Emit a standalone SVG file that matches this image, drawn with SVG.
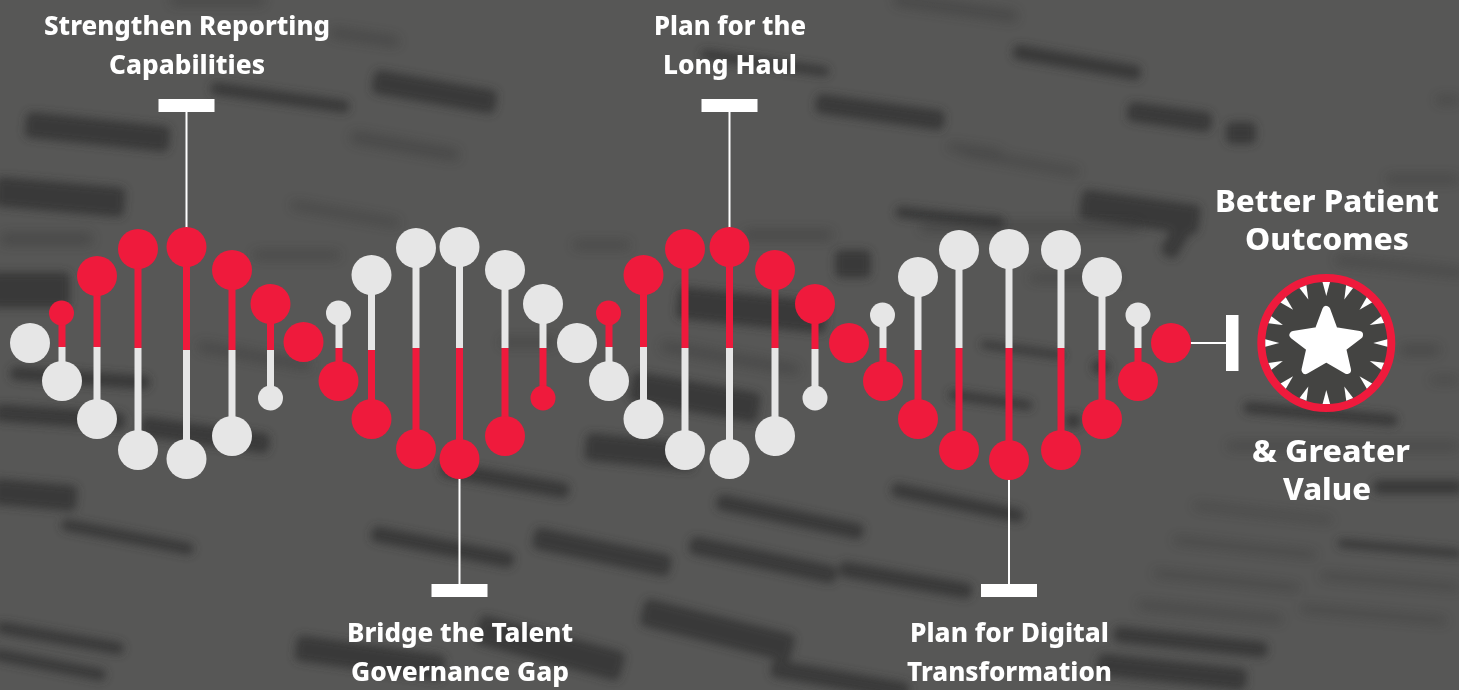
<svg xmlns="http://www.w3.org/2000/svg" width="1459" height="690" viewBox="0 0 1459 690">
<style>
.r{fill:#ef1a3c}.w{fill:#e6e6e6}
.t{font-family:"Noto Sans","Open Sans",sans-serif;font-weight:800;font-size:27px;fill:#fff;text-anchor:middle}
.k{font-size:31px}
.l{stroke:#fff;stroke-width:2;fill:none}.b{fill:#fff}
.s{fill:#353636}
.s rect{rx:6px}
</style>
<defs>
<filter id="bl" filterUnits="userSpaceOnUse" x="-30" y="-30" width="1520" height="750"><feGaussianBlur stdDeviation="4.500"/></filter>
<filter id="bf" filterUnits="userSpaceOnUse" x="-30" y="-30" width="1520" height="750"><feGaussianBlur stdDeviation="5.500"/></filter>
</defs>
<rect width="1459" height="690" fill="#575756"/>
<g id="background-dark" filter="url(#bl)" class="s" opacity=".85">
<rect x="25" y="119" width="145" height="26" transform="rotate(6 98 132)"/>
<rect x="-5" y="182" width="130" height="30" transform="rotate(5 60 197)"/>
<rect x="210" y="91" width="140" height="13" transform="rotate(8 280 97)"/>
<rect x="372" y="80" width="125" height="24" transform="rotate(10 435 92)"/>
<rect x="700" y="58" width="130" height="10" transform="rotate(8 765 63)"/>
<rect x="815" y="102" width="130" height="20" transform="rotate(8 880 112)"/>
<rect x="895" y="212" width="110" height="12" transform="rotate(6 955 218)"/>
<rect x="1012" y="55" width="130" height="15" transform="rotate(10 1077 62)"/>
<rect x="1127" y="107" width="85" height="20" transform="rotate(8 1170 117)"/>
<rect x="1226" y="122" width="30" height="22"/>
<rect x="1080" y="197" width="120" height="30" transform="rotate(8 1140 212)"/>
<rect x="677" y="294" width="150" height="32" transform="rotate(6 750 310)"/>
<rect x="630" y="383" width="130" height="30" transform="rotate(10 700 398)"/>
<rect x="585" y="438" width="110" height="28" transform="rotate(6 640 452)"/>
<rect x="-10" y="272" width="80" height="36"/>
<rect x="10" y="371" width="140" height="14" transform="rotate(4 80 378)"/>
<rect x="-5" y="408" width="130" height="18" transform="rotate(4 60 417)"/>
<rect x="140" y="425" width="130" height="20" transform="rotate(8 205 435)"/>
<rect x="-8" y="482" width="85" height="26" transform="rotate(5 35 495)"/>
<rect x="60" y="531" width="135" height="12" transform="rotate(11 128 537)"/>
<rect x="-5" y="632" width="130" height="12" transform="rotate(10 60 638)"/>
<rect x="-8" y="659" width="115" height="12" transform="rotate(11 50 665)"/>
<rect x="295" y="645" width="150" height="26" transform="rotate(8 370 658)"/>
<rect x="370" y="539" width="145" height="16" transform="rotate(11 442 547)"/>
<rect x="532" y="541" width="140" height="22" transform="rotate(12 602 552)"/>
<rect x="688" y="551" width="150" height="18" transform="rotate(12 763 560)"/>
<rect x="838" y="572" width="135" height="16" transform="rotate(10 905 580)"/>
<rect x="715" y="509" width="150" height="16" transform="rotate(12 790 517)"/>
<rect x="890" y="496" width="135" height="14" transform="rotate(12 958 503)"/>
<rect x="640" y="616" width="155" height="28" transform="rotate(14 717 630)"/>
<rect x="770" y="671" width="140" height="18" transform="rotate(10 840 680)"/>
<rect x="475" y="633" width="150" height="30" transform="rotate(15 550 648)"/>
<rect x="440" y="472" width="130" height="16" transform="rotate(10 505 480)"/>
<rect x="1113" y="634" width="155" height="16" transform="rotate(6 1191 642)"/>
<rect x="1097" y="661" width="150" height="22" transform="rotate(6 1172 672)"/>
<rect x="1373" y="480" width="90" height="14"/>
<rect x="1243" y="408" width="155" height="12" transform="rotate(5 1320 414)"/>
<rect x="1337" y="544" width="125" height="9" transform="rotate(5 1400 548)"/>
<rect x="835" y="250" width="36" height="28"/>
<rect x="1170" y="212" width="18" height="48" transform="rotate(30 1180 235)"/>
<rect x="980" y="346" width="85" height="8" transform="rotate(8 1023 350)"/>
<rect x="948" y="395" width="85" height="10" transform="rotate(8 990 400)"/>
<rect x="1092" y="360" width="18" height="14"/>
<rect x="1065" y="414" width="16" height="14"/>
</g>
<g id="background-faint" filter="url(#bf)" class="s" opacity=".4">
<rect x="893" y="2" width="125" height="12" transform="rotate(8 955 8)"/>
<rect x="350" y="140" width="110" height="12" transform="rotate(10 405 145)"/>
<rect x="330" y="30" width="70" height="10" transform="rotate(8 350 33)"/>
<rect x="170" y="-5" width="95" height="10"/>
<rect x="290" y="210" width="110" height="8" transform="rotate(10 345 215)"/>
<rect x="947" y="146" width="55" height="8" transform="rotate(8 975 150)"/>
<rect x="960" y="158" width="120" height="8" transform="rotate(10 1020 162)"/>
<rect x="1335" y="262" width="130" height="8" transform="rotate(6 1396 266)"/>
<rect x="1227" y="442" width="232" height="8"/>
<rect x="500" y="338" width="57" height="9"/>
<rect x="573" y="241" width="57" height="8"/>
<rect x="660" y="353" width="140" height="10" transform="rotate(10 730 358)"/>
<rect x="743" y="230" width="90" height="10"/>
<rect x="0" y="233" width="93" height="12"/>
<rect x="197" y="351" width="115" height="10" transform="rotate(10 255 356)"/>
<rect x="253" y="251" width="87" height="8"/>
<rect x="920" y="222" width="220" height="10"/>
<rect x="1030" y="274" width="90" height="8"/>
<rect x="1193" y="510" width="140" height="6" transform="rotate(6 1263 513)"/>
<rect x="1173" y="544" width="144" height="7" transform="rotate(6 1245 547)"/>
<rect x="1153" y="577" width="147" height="7" transform="rotate(6 1226 580)"/>
<rect x="1137" y="608" width="146" height="8" transform="rotate(6 1210 612)"/>
<rect x="1320" y="578" width="140" height="7" transform="rotate(5 1390 581)"/>
<rect x="1300" y="611" width="147" height="7" transform="rotate(5 1373 615)"/>
<rect x="1386" y="175" width="73" height="8"/>
<rect x="1436" y="96" width="23" height="8"/>
<rect x="1400" y="345" width="40" height="10"/>
<rect x="1430" y="377" width="29" height="6"/>
</g>
<g id="connectors">
<path class="l" d="M186.500 112V230M459.500 478V590M729.500 112V230M1009 478V590M1190 343H1232"/>
<g stroke-width="7" fill="none">
<g stroke="#ef1a3c"><path d="M62 313V347M97 276V347M138 249V348M186.500 247V350M232 270V350M270.500 304V350"/>
<path d="M339 348V381M371.500 350V419M416 348V449M459.500 348V459M505 348V436M543 348V398"/>
<path d="M609 313V347M643.500 275V347M685 249V348M729.500 247V348M775 270V348M815 304V349"/>
<path d="M883 348V381M918 350V419M959 348V450M1009 348V460M1061 348V450M1102 350V419M1138 348V381"/></g>
<g stroke="#e6e6e6"><path d="M62 347V381M97 347V419M138 348V450M186.500 350V459M232 350V436M270.500 350V398"/>
<path d="M339 313V348M371.500 275V350M416 248V348M459.500 247V348M505 270V348M543 304V348"/>
<path d="M609 347V381M643.500 347V419M685 348V450M729.500 348V459M775 348V436M815 349V398"/>
<path d="M883 315V348M918 277V350M959 250V348M1009 249V348M1061 250V348M1102 277V350M1138 315V348"/></g>
</g>
</g>
<g id="helix-1">
<circle class="w" cx="30" cy="343" r="20"/>
<circle class="r" cx="61.500" cy="313" r="12.500"/><circle class="r" cx="97" cy="276" r="20"/><circle class="r" cx="138" cy="249" r="20"/><circle class="r" cx="186.500" cy="247" r="20"/><circle class="r" cx="232" cy="270" r="20"/><circle class="r" cx="270.500" cy="304" r="20"/>
<circle class="w" cx="62" cy="381" r="20"/><circle class="w" cx="97" cy="419" r="20"/><circle class="w" cx="138" cy="450" r="20"/><circle class="w" cx="186.500" cy="459" r="20"/><circle class="w" cx="232" cy="436" r="20"/><circle class="w" cx="270.500" cy="398" r="12.500"/>
<circle class="r" cx="303.500" cy="342" r="20"/>
</g>
<g id="helix-2">
<circle class="w" cx="338.500" cy="313" r="12.500"/><circle class="w" cx="371.500" cy="275" r="20"/><circle class="w" cx="416" cy="248" r="20"/><circle class="w" cx="459.500" cy="247" r="20"/><circle class="w" cx="505" cy="270" r="20"/><circle class="w" cx="543" cy="304" r="20"/>
<circle class="r" cx="338.500" cy="381" r="20"/><circle class="r" cx="371.500" cy="419" r="20"/><circle class="r" cx="416" cy="449" r="20"/><circle class="r" cx="459.500" cy="459" r="20"/><circle class="r" cx="505" cy="436" r="20"/><circle class="r" cx="543" cy="398" r="12.500"/>
<circle class="w" cx="577" cy="343" r="20"/>
</g>
<g id="helix-3">
<circle class="r" cx="608.500" cy="313" r="12.500"/><circle class="r" cx="643.500" cy="275" r="20"/><circle class="r" cx="685" cy="249" r="20"/><circle class="r" cx="729.500" cy="247" r="20"/><circle class="r" cx="775" cy="270" r="20"/><circle class="r" cx="815" cy="304" r="20"/>
<circle class="w" cx="609" cy="381" r="20"/><circle class="w" cx="643.500" cy="419" r="20"/><circle class="w" cx="685" cy="450" r="20"/><circle class="w" cx="729.500" cy="459" r="20"/><circle class="w" cx="775" cy="436" r="20"/><circle class="w" cx="815" cy="398" r="12.500"/>
<circle class="r" cx="849" cy="343" r="20"/>
</g>
<g id="helix-4">
<circle class="w" cx="882.500" cy="315" r="12.500"/><circle class="w" cx="918" cy="277" r="20"/><circle class="w" cx="959" cy="250" r="20"/><circle class="w" cx="1009" cy="249" r="20"/><circle class="w" cx="1061" cy="250" r="20"/><circle class="w" cx="1102" cy="277" r="20"/><circle class="w" cx="1138" cy="315" r="12.500"/>
<circle class="r" cx="883" cy="381" r="20"/><circle class="r" cx="918" cy="419" r="20"/><circle class="r" cx="959" cy="450" r="20"/><circle class="r" cx="1009" cy="460" r="20"/><circle class="r" cx="1061" cy="450" r="20"/><circle class="r" cx="1102" cy="419" r="20"/><circle class="r" cx="1138" cy="381" r="20"/>
<circle class="r" cx="1171" cy="343" r="20"/>
</g>
<g id="label-reporting"><rect class="b" x="158.500" y="99" width="56" height="13"/><text class="t" x="187" y="35" textLength="286" lengthAdjust="spacingAndGlyphs">Strengthen Reporting</text><text class="t" x="187" y="74" textLength="156" lengthAdjust="spacingAndGlyphs">Capabilities</text></g>
<g id="label-talent"><rect class="b" x="431.500" y="584" width="56" height="13"/><text class="t" x="460" y="642" textLength="226" lengthAdjust="spacingAndGlyphs">Bridge the Talent</text><text class="t" x="460" y="681" textLength="218" lengthAdjust="spacingAndGlyphs">Governance Gap</text></g>
<g id="label-longhaul"><rect class="b" x="701.500" y="99" width="56" height="13"/><text class="t" x="730" y="35" textLength="152" lengthAdjust="spacingAndGlyphs">Plan for the</text><text class="t" x="730" y="74" textLength="134" lengthAdjust="spacingAndGlyphs">Long Haul</text></g>
<g id="label-digital"><rect class="b" x="981" y="584" width="56" height="13"/><text class="t" x="1009.500" y="642" textLength="199" lengthAdjust="spacingAndGlyphs">Plan for Digital</text><text class="t" x="1009.500" y="681" textLength="205" lengthAdjust="spacingAndGlyphs">Transformation</text></g>
<g id="outcome">
<rect class="b" x="1226" y="315" width="12.500" height="56"/>
<circle cx="1326.300" cy="343" r="65" fill="#444442" stroke="#ef1a3c" stroke-width="8"/>
<g class="b" id="rays"><path id="ray" d="M1322.500 282H1330L1326.300 296Z"/>
<use href="#ray" transform="rotate(22.500 1326.300 343)"/><use href="#ray" transform="rotate(45 1326.300 343)"/><use href="#ray" transform="rotate(67.500 1326.300 343)"/><use href="#ray" transform="rotate(90 1326.300 343)"/><use href="#ray" transform="rotate(112.500 1326.300 343)"/><use href="#ray" transform="rotate(135 1326.300 343)"/><use href="#ray" transform="rotate(157.500 1326.300 343)"/><use href="#ray" transform="rotate(180 1326.300 343)"/><use href="#ray" transform="rotate(202.500 1326.300 343)"/><use href="#ray" transform="rotate(225 1326.300 343)"/><use href="#ray" transform="rotate(247.500 1326.300 343)"/><use href="#ray" transform="rotate(270 1326.300 343)"/><use href="#ray" transform="rotate(292.500 1326.300 343)"/><use href="#ray" transform="rotate(315 1326.300 343)"/><use href="#ray" transform="rotate(337.500 1326.300 343)"/></g>
<path class="b" stroke="#fff" stroke-width="8" stroke-linejoin="round" d="M1326.300 310L1334 331L1359 335L1342 348L1347 370L1326.300 358L1305.500 370L1310.500 348L1293.500 335L1318.500 331Z"/>
<text class="t k" x="1327" y="212" textLength="224" lengthAdjust="spacingAndGlyphs">Better Patient</text><text class="t k" x="1327" y="250" textLength="164" lengthAdjust="spacingAndGlyphs">Outcomes</text>
<text class="t k" x="1331" y="462" textLength="158" lengthAdjust="spacingAndGlyphs">&amp; Greater</text><text class="t k" x="1327" y="500" textLength="88" lengthAdjust="spacingAndGlyphs">Value</text>
</g>
</svg>
